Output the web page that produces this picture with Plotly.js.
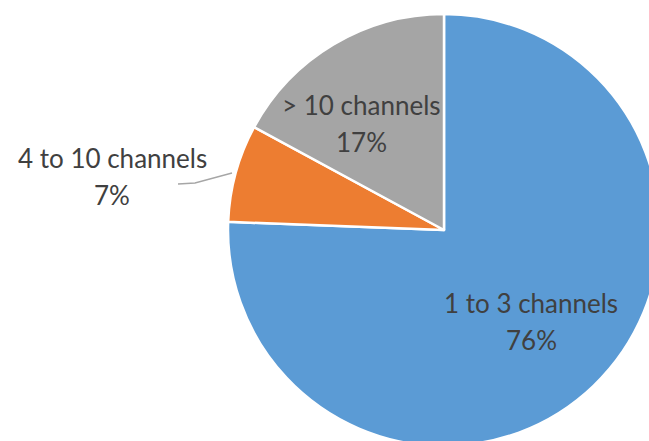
<!DOCTYPE html>
<html>
<head>
<meta charset="utf-8">
<script src="https://cdn.plot.ly/plotly-3.0.1.min.js"></script>
<style>
html,body{margin:0;padding:0;overflow:hidden;background:#fff;}
#chart{width:700px;height:470px;}
</style>
</head>
<body>
<div id="chart"></div>
<script>
const categories = ["1 to 3 channels", "4 to 10 channels", "> 10 channels"];
const shares = [75.6, 7.3, 17.1];
const colors = ["#5B9BD5", "#ED7D31", "#A5A5A5"];

const W = 700, H = 470;
const px = x => x / W;
const py = y => 1 - y / H;

const total = shares.reduce((a, b) => a + b, 0);
const pct = shares.map(v => Math.round(v / total * 100) + "%");

// label anchor centres (pixels) for each slice
const labelPos = [[531, 303], [112, 158], [361, 105]];
const lineGap = 37;
const fontSpec = {family: "Lato, 'Open Sans', sans-serif", size: 26, color: "#404040"};

const annotations = [];
categories.forEach((c, i) => {
  const [x, y] = labelPos[i];
  annotations.push({xref: "paper", yref: "paper", x: px(x), y: py(y), text: c,
    showarrow: false, xanchor: "center", yanchor: "middle", font: fontSpec});
  annotations.push({xref: "paper", yref: "paper", x: px(x), y: py(y + lineGap), text: pct[i],
    showarrow: false, xanchor: "center", yanchor: "middle", font: fontSpec});
});

const data = [{
  type: "pie",
  labels: categories,
  values: shares,
  sort: false,
  direction: "clockwise",
  rotation: 0,
  textinfo: "none",
  hoverinfo: "none",
  marker: {colors: colors, line: {color: "#ffffff", width: 2.5}},
  domain: {x: [px(228), px(660)], y: [py(446), py(14)]},
  showlegend: false
}];

const layout = {
  width: W, height: H,
  margin: {l: 0, r: 0, t: 0, b: 0},
  paper_bgcolor: "#ffffff",
  showlegend: false,
  annotations: annotations,
  shapes: [{
    type: "path", xref: "paper", yref: "paper",
    path: `M ${px(178)} ${py(184)} L ${px(195)} ${py(183)} L ${px(232)} ${py(173)}`,
    line: {color: "#A6A6A6", width: 1.3}
  }]
};

Plotly.newPlot("chart", data, layout, {staticPlot: true, displayModeBar: false});
</script>
</body>
</html>
